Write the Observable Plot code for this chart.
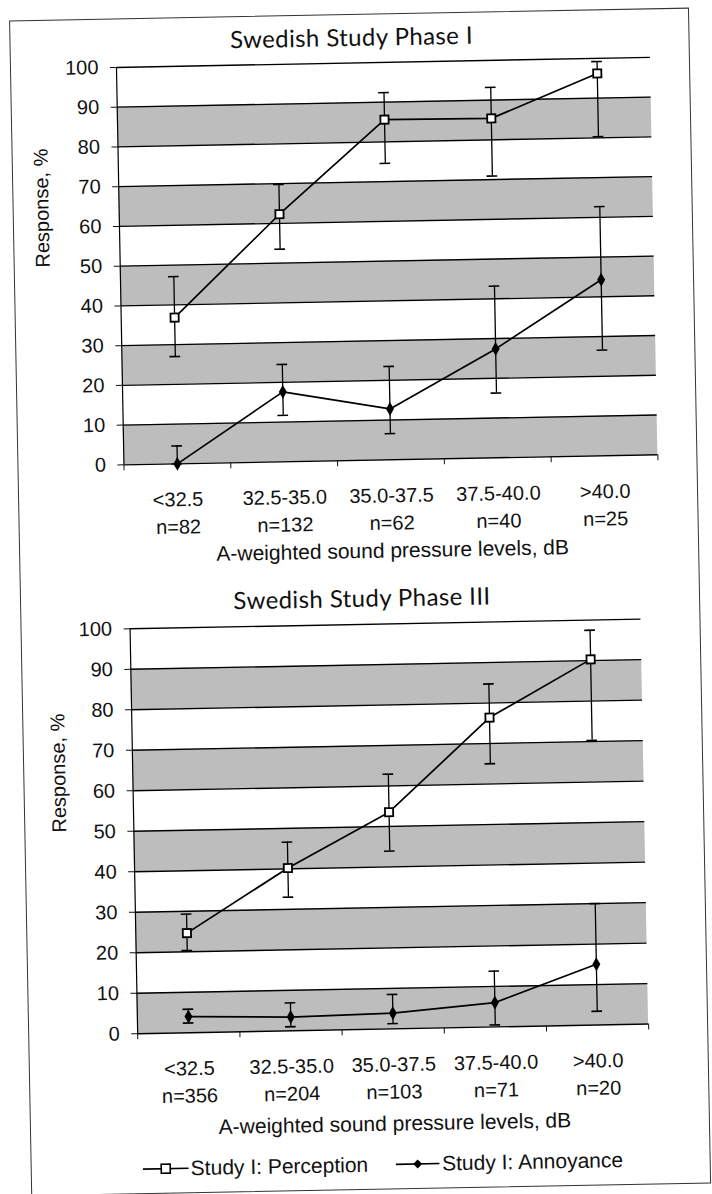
<!DOCTYPE html>
<html>
<head>
<meta charset="utf-8">
<script src="https://cdn.jsdelivr.net/npm/d3@7"></script>
<script src="https://cdn.jsdelivr.net/npm/@observablehq/plot@0.6"></script>
<style>
  html, body { margin: 0; padding: 0; background: #fff; width: 712px; height: 1194px; overflow: hidden; }
  #page { position: absolute; left: 0; top: 0; width: 712px; height: 1194px;
          transform: rotate(-1.08deg); transform-origin: 356px 597px;
          font-family: "Liberation Sans", Arial, sans-serif; color: #111; }
  .frame { position: absolute; left: 20px; top: 14px; width: 680px; height: 1176px; border: 1.5px solid #333; box-sizing: border-box; }
  .title { position: absolute; left: 0; width: 724px; text-align: center; font-family: Lato, "Open Sans", sans-serif;
           font-size: 24px; line-height: 28px; letter-spacing: 0.4px; color: #111; }
  .chart { position: absolute; left: 0; }
  .legend { position: absolute; left: 132px; top: 1151px; height: 28px; display: flex; align-items: center;
            font-size: 21px; line-height: 28px; white-space: nowrap; }
  .legend svg { display: block; margin-right: 2px; }
  .legend .item { display: flex; align-items: center; }
  .legend .item + .item { margin-left: 28px; }
</style>
</head>
<body>
<div id="page">
  <div class="frame"></div>
  <div class="title" style="top:23px">Swedish Study Phase I</div>
  <div id="c1" class="chart" style="top:0px"></div>
  <div class="title" style="top:584px">Swedish Study Phase III</div>
  <div id="c2" class="chart" style="top:612px"></div>
  <div class="legend">
    <div class="item">
      <svg width="46" height="14"><line x1="0" y1="7" x2="46" y2="7" stroke="#000" stroke-width="1.6"/><rect x="18.5" y="2.5" width="9" height="9" fill="#fff" stroke="#000" stroke-width="1.6"/></svg>
      <span>Study I: Perception</span>
    </div>
    <div class="item">
      <svg width="44" height="14"><line x1="0" y1="7" x2="44" y2="7" stroke="#000" stroke-width="1.6"/><path d="M22,2.5 L26.5,7 L22,11.5 L17.5,7 Z" fill="#000"/></svg>
      <span>Study I: Annoyance</span>
    </div>
  </div>
</div>
<script>
// ---------- data ----------
const categories = ["<32.5", "32.5-35.0", "35.0-37.5", "37.5-40.0", ">40.0"];
const nPhaseI   = [82, 132, 62, 40, 25];
const nPhaseIII = [356, 204, 103, 71, 20];

// Phase I
const percI      = [36.8, 62.3, 85.6, 85.4, 96.2];
const percILow   = [27.0, 53.5, 74.6, 70.9, 80.3];
const percIHigh  = [47.1, 69.8, 92.4, 93.2, 99.2];
const annI       = [0.0, 17.6, 12.8, 27.4, 44.3];
const annILow    = [0.0, 11.7, 6.6, 16.3, 26.6];
const annIHigh   = [4.5, 24.5, 23.5, 43.2, 62.7];

// Phase III
const percIII     = [24.6, 40.2, 53.5, 76.4, 90.3];
const percIIILow  = [20.3, 33.0, 43.9, 65.0, 70.3];
const percIIIHigh = [29.3, 46.6, 62.9, 84.7, 97.5];
const annIII      = [4.0, 3.4, 3.9, 6.0, 15.0];
const annIIILow   = [2.4, 1.0, 1.3, 0.5, 3.4];
const annIIIHigh  = [5.8, 6.9, 8.5, 13.8, 30.0];

const yTicks = [0, 10, 20, 30, 40, 50, 60, 70, 80, 90, 100];
const xBounds = [0, 1, 2, 3, 4, 5];
const bands = [[0, 10], [20, 30], [40, 50], [60, 70], [80, 90]];
const xTitle = "A-weighted sound pressure levels, dB";
const yTitle = "Response, %";

function panel(cfg) {
  const rows = categories.map((c, i) => ({
    x: i + 0.5,
    label: c + "\n" + "n=" + cfg.n[i],
    perc: cfg.perc[i], percLo: cfg.percLo[i], percHi: cfg.percHi[i],
    ann: cfg.ann[i], annLo: cfg.annLo[i], annHi: cfg.annHi[i]
  }));
  const cap = cfg.cap;
  const err = "#000";
  return Plot.plot({
    width: 712,
    height: cfg.height,
    marginTop: cfg.mt, marginBottom: cfg.mb, marginLeft: cfg.ml, marginRight: cfg.mr,
    style: { fontFamily: "'Liberation Sans', Arial, sans-serif", fontSize: "20px", color: "#111", background: "transparent", overflow: "visible" },
    x: { domain: [0, 5] },
    y: { domain: [0, 100] },
    marks: [
      Plot.rect(bands, { x1: () => xBounds[0], x2: () => xBounds[xBounds.length - 1], y1: d => d[0], y2: d => d[1], fill: "#bdbdbd" }),
      Plot.ruleY(yTicks, { stroke: "#000", strokeWidth: 1.4 }),
      Plot.ruleX([0], { stroke: "#000", strokeWidth: 1.2 }),
      Plot.axisY(yTicks, { tickSize: 6, tickPadding: 12, fontSize: 20, label: null, tickFormat: d => String(d) }),
      Plot.axisX(xBounds, { tickSize: 6, tickFormat: () => "", label: null }),
      // error bars
      Plot.ruleX(rows, { x: "x", y1: "percLo", y2: "percHi", stroke: err, strokeWidth: 1.3 }),
      Plot.ruleY(rows, { y: "percHi", x1: d => d.x - cap, x2: d => d.x + cap, stroke: err, strokeWidth: 1.6 }),
      Plot.ruleY(rows, { y: "percLo", x1: d => d.x - cap, x2: d => d.x + cap, stroke: err, strokeWidth: 1.6 }),
      Plot.ruleX(rows, { x: "x", y1: "annLo", y2: "annHi", stroke: err, strokeWidth: 1.3 }),
      Plot.ruleY(rows, { y: "annHi", x1: d => d.x - cap, x2: d => d.x + cap, stroke: err, strokeWidth: 1.6 }),
      Plot.ruleY(rows, { y: "annLo", x1: d => d.x - cap, x2: d => d.x + cap, stroke: err, strokeWidth: 1.6 }),
      // series
      Plot.line(rows, { x: "x", y: "perc", stroke: "#000", strokeWidth: 1.7 }),
      Plot.line(rows, { x: "x", y: "ann", stroke: "#000", strokeWidth: 1.7 }),
      Plot.dot(rows, { x: "x", y: "perc", symbol: "square", r: 4.6, fill: "#fff", stroke: "#000", strokeWidth: 1.8 }),
      Plot.dot(rows, { x: "x", y: "ann", symbol: "diamond", r: 4.2, fill: "#000", stroke: "none" }),
      // category labels
      Plot.text(rows, { x: "x", text: "label", frameAnchor: "bottom", lineAnchor: "top", dy: 23, lineHeight: 1.37, fontSize: 20, fill: "#111" }),
      // axis titles
      Plot.text([xTitle], { frameAnchor: "bottom", lineAnchor: "middle", dy: cfg.xTitleDy, fontSize: 21, fill: "#111" }),
      Plot.text([yTitle], { frameAnchor: "left", lineAnchor: "middle", rotate: -90, dx: cfg.yTitleDx, fontSize: 20, fill: "#111" })
    ]
  });
}

document.getElementById("c1").append(panel({
  n: nPhaseI, perc: percI, percLo: percILow, percHi: percIHigh, ann: annI, annLo: annILow, annHi: annIHigh,
  height: 580, mt: 62.5, mb: 120, ml: 126, mr: 52, cap: 0.05, xTitleDy: 91, yTitleDx: -77
}));
document.getElementById("c2").append(panel({
  n: nPhaseIII, perc: percIII, percLo: percIIILow, percHi: percIIIHigh, ann: annIII, annLo: annIIILow, annHi: annIIIHigh,
  height: 582, mt: 12, mb: 165, ml: 129, mr: 72, cap: 0.052, xTitleDy: 95, yTitleDx: -74
}));
</script>
</body>
</html>
